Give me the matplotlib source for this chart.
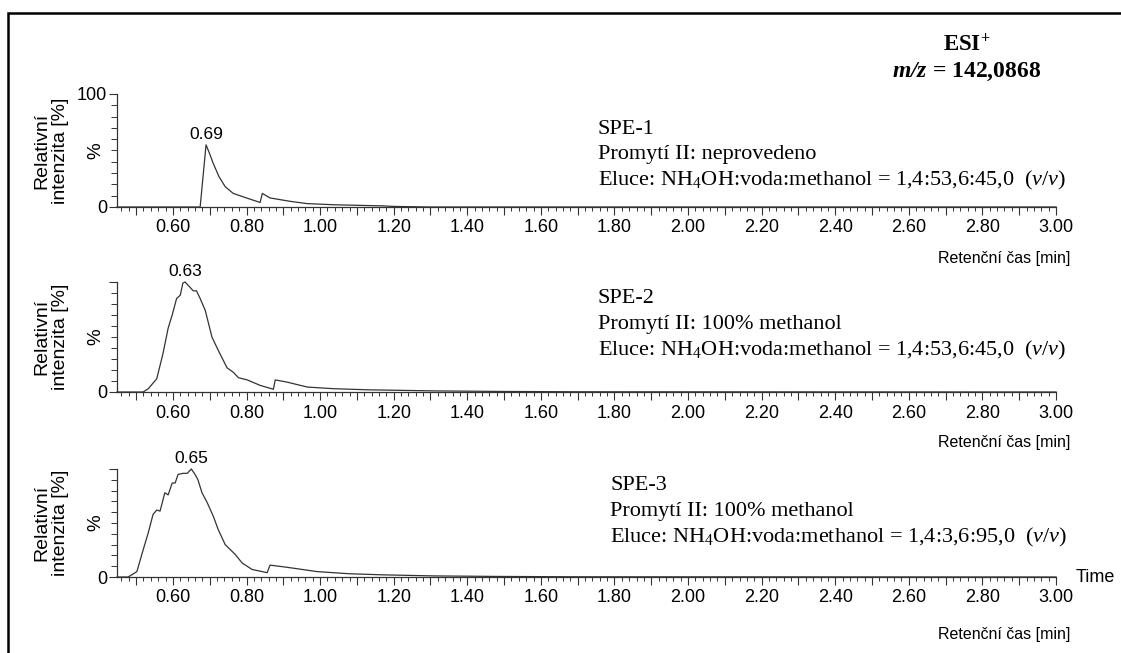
import numpy as np
import matplotlib.pyplot as plt
from matplotlib.ticker import MultipleLocator, FuncFormatter
from matplotlib.patches import Rectangle

plt.rcParams['font.family'] = ['Liberation Sans', 'DejaVu Sans']
plt.rcParams['mathtext.fontset'] = 'custom'
plt.rcParams['mathtext.rm'] = 'Liberation Serif'
plt.rcParams['mathtext.it'] = 'Liberation Serif:italic'
plt.rcParams['mathtext.bf'] = 'Liberation Serif:bold'
plt.rcParams['mathtext.bfit'] = 'Liberation Serif:italic:bold'

# Chromatogramy (retenční čas [min], relativní intenzita [%])
t1 = [0.448, 0.674, 0.690, 0.700, 0.709, 0.725, 0.742, 0.764, 0.800, 0.837, 0.843,
      0.864, 0.919, 0.965, 1.036, 1.10, 1.17, 1.20, 1.30, 3.00]
y1 = [0, 0, 55, 47, 39, 27, 18, 12, 8, 4, 12,
      8, 5, 3, 2, 1.5, 1, 0.5, 0, 0]

t2 = [0.448, 0.519, 0.533, 0.556, 0.573, 0.587, 0.598, 0.610, 0.620, 0.627, 0.633,
      0.647, 0.655, 0.664, 0.674, 0.688, 0.706, 0.723, 0.747, 0.764, 0.778, 0.802,
      0.837, 0.873, 0.878, 0.910, 0.965, 1.036, 1.13, 1.31, 1.49, 1.70, 3.00]
y2 = [0, 0, 3, 12, 35, 58, 70, 85, 88, 99, 100,
      95, 92, 92, 85, 74, 50, 38, 22, 18, 13, 11,
      6, 2.5, 11, 9, 4.5, 3, 2, 1, 0.5, 0.2, 0]

t3 = [0.448, 0.478, 0.488, 0.502, 0.519, 0.533, 0.546, 0.556, 0.565, 0.578, 0.587,
      0.598, 0.606, 0.614, 0.628, 0.639, 0.650, 0.660, 0.668, 0.679, 0.693, 0.710,
      0.723, 0.742, 0.769, 0.788, 0.815, 0.856, 0.864, 0.910, 0.992, 1.08, 1.17,
      1.31, 1.49, 1.70, 3.00]
y3 = [0, 0, 2, 5, 25, 41, 58, 62, 61, 78, 76,
      87, 87, 95, 96, 96, 100, 95, 90, 78, 69, 56,
      44, 30, 21, 13, 7, 4, 11, 9, 5, 3, 2,
      1, 0.5, 0.2, 0]

peaks = [(0.69, 55, "0.69"), (0.633, 100, "0.63"), (0.65, 100, "0.65")]
popisy = [
    ["SPE-1", "Promytí II: neprovedeno",
     r"Eluce: NH$_4$OH:voda:methanol = 1,4:53,6:45,0  ($v/v$)"],
    ["SPE-2", "Promytí II: 100% methanol",
     r"Eluce: NH$_4$OH:voda:methanol = 1,4:53,6:45,0  ($v/v$)"],
    ["SPE-3", "Promytí II: 100% methanol",
     r"Eluce: NH$_4$OH:voda:methanol = 1,4:3,6:95,0  ($v/v$)"],
]

W, H = 1121, 653
fig = plt.figure(figsize=(W / 100, H / 100), dpi=100)

# rámeček (jen levá a horní hrana jsou vidět)
fig.patches.append(Rectangle((8 / W, -0.1), 1.2, 1.1 - 13 / H,
                             transform=fig.transFigure, fill=False,
                             edgecolor='black', linewidth=1.8))

# pozice os v pixelech: (levy, horni y 100 %, dolni y 0)
rects = [(117, 94, 207), (117, 282, 392), (117, 469, 577)]
text_pos = [(598, 129), (598, 299), (610, 486)]
xlab_y = [258, 442, 635]
data = [(t1, y1), (t2, y2), (t3, y3)]

for i, ((t, y), (l, top, bot)) in enumerate(zip(data, rects)):
    ax = fig.add_axes([l / W, 1 - bot / H, (1056 - l) / W, (bot - top) / H])
    ax.plot(t, y, color='#333333', lw=0.9, clip_on=False)
    ax.set_xlim(0.448, 3.0)
    ax.set_ylim(0, 100)
    for s in ['top', 'right']:
        ax.spines[s].set_visible(False)
    for s in ['left', 'bottom']:
        ax.spines[s].set_color('#333333')
        ax.spines[s].set_linewidth(0.9)
    ax.xaxis.set_major_locator(MultipleLocator(0.1))
    ax.xaxis.set_minor_locator(MultipleLocator(0.02))
    ax.xaxis.set_major_formatter(FuncFormatter(
        lambda v, p: f"{v:.2f}" if abs(round(v / 0.2) * 0.2 - v) < 1e-6 else ""))
    ax.yaxis.set_major_locator(MultipleLocator(100))
    ax.yaxis.set_minor_locator(MultipleLocator(10))
    if i == 0:
        ax.yaxis.set_major_formatter(FuncFormatter(lambda v, p: f"{v:.0f}"))
    else:
        ax.yaxis.set_major_formatter(FuncFormatter(lambda v, p: "0" if v == 0 else ""))
    ax.tick_params(axis='x', which='major', length=6, width=0.8, pad=3,
                   labelsize=13, color='#333333')
    ax.tick_params(axis='x', which='minor', length=3, width=0.7, color='#333333')
    ax.tick_params(axis='y', which='major', length=6, width=0.8, pad=1,
                   labelsize=13, color='#333333')
    ax.tick_params(axis='y', which='minor', length=4, width=0.7, color='#333333')

    ax.text(-0.013, 0.5, "%", transform=ax.transAxes, rotation=90,
            ha='right', va='center', fontsize=13.5)
    fig.text(51 / W, 1 - (top + bot) / 2 / H, "Relativní\nintenzita [%]",
             rotation=90, ha='center', va='center', fontsize=14, linespacing=1.1)

    px, py, lab = peaks[i]
    ax.annotate(lab, (px, py), xytext=(0, 2), textcoords='offset points',
                ha='center', va='bottom', fontsize=12.5)

    tx, ty = text_pos[i]
    for k, line in enumerate(popisy[i]):
        fig.text(tx / W, 1 - (ty + 25.5 * k) / H, line, ha='left', va='center',
                 fontsize=16, family='Liberation Serif')

    fig.text(1070 / W, 1 - xlab_y[i] / H, "Retenční čas [min]", ha='right',
             va='center', fontsize=11.5)

fig.text(1076 / W, 1 - 578 / H, "Time", ha='left', va='center', fontsize=13)

fig.text(967 / W, 1 - 45 / H, r"ESI$^{\mathbf{+}}$", ha='center', va='center',
         fontsize=16.5, fontweight='bold', family='Liberation Serif')
fig.text(967 / W, 1 - 72 / H, r"$\mathbfit{m/z}$ = 142,0868", ha='center',
         va='center', fontsize=17, fontweight='bold', family='Liberation Serif')

fig.savefig("out.png", dpi=100)
